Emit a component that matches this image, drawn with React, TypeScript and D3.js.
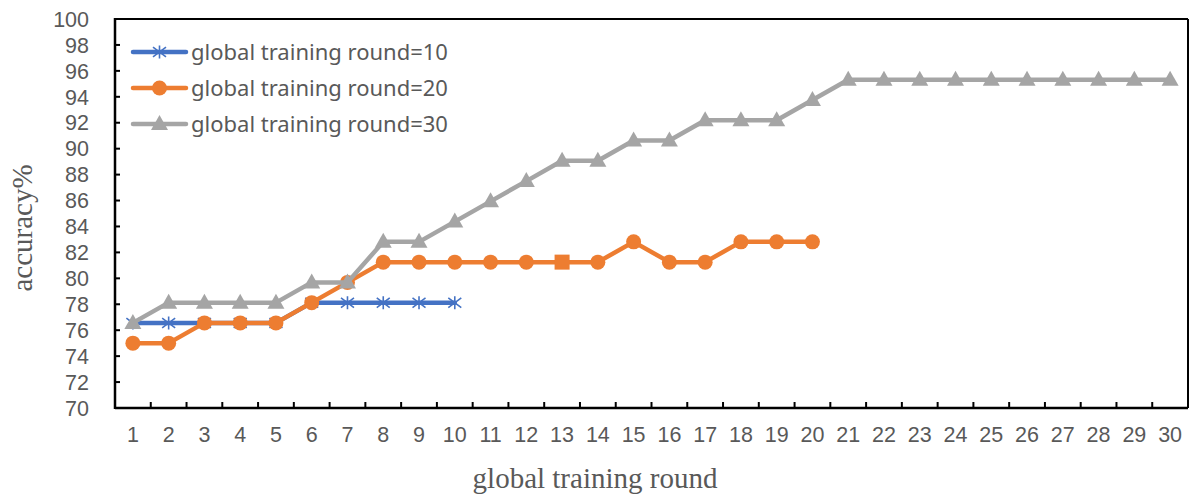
import React from "react";
import * as d3 from "d3";

const rounds: number[] = d3.range(1, 31);
const yTicks: number[] = d3.range(70, 101, 2);

const seriesNames = [
  "global training round=10",
  "global training round=20",
  "global training round=30",
];

const acc10: number[] = [
  76.5625, 76.5625, 76.5625, 76.5625, 76.5625,
  78.125, 78.125, 78.125, 78.125, 78.125,
];

const acc20: number[] = [
  75.0, 75.0, 76.5625, 76.5625, 76.5625, 78.125, 79.6875, 81.25, 81.25, 81.25,
  81.25, 81.25, 81.25, 81.25, 82.8125, 81.25, 81.25, 82.8125, 82.8125, 82.8125,
];

const acc30: number[] = [
  76.5625, 78.125, 78.125, 78.125, 78.125, 79.6875, 79.6875, 82.8125, 82.8125, 84.375,
  85.9375, 87.5, 89.0625, 89.0625, 90.625, 90.625, 92.1875, 92.1875, 92.1875, 93.75,
  95.3125, 95.3125, 95.3125, 95.3125, 95.3125, 95.3125, 95.3125, 95.3125, 95.3125, 95.3125,
];

const colors = ["#4472C4", "#ED7D31", "#A5A5A5"];
const markerKinds = ["star", "circle", "triangle"];
// point 13 of the second series uses a square marker
const squarePoints20 = [13];

const W = 1192;
const H = 499;
const left = 115;
const right = 1188;
const top = 19;
const bottom = 408;

const tickFont = "'Liberation Sans', Arial, sans-serif";
const legendFont = "'Noto Sans', sans-serif";
const titleFont = "'Liberation Serif', 'Times New Roman', serif";
const textGray = "#595959";

function Marker({ kind, x, y, color }: { kind: string; x: number; y: number; color: string }) {
  if (kind === "circle") return <circle cx={x} cy={y} r={7.5} fill={color} />;
  if (kind === "square") return <rect x={x - 7.5} y={y - 7.5} width={15} height={15} fill={color} />;
  if (kind === "triangle") {
    const p = d3.path();
    p.moveTo(x, y - 9);
    p.lineTo(x + 8.5, y + 6);
    p.lineTo(x - 8.5, y + 6);
    p.closePath();
    return <path d={p.toString()} fill={color} />;
  }
  // asterisk: vertical stroke plus an x
  const s = 6.5;
  const p = d3.path();
  p.moveTo(x, y - s);
  p.lineTo(x, y + s);
  p.moveTo(x - s, y - s * 0.75);
  p.lineTo(x + s, y + s * 0.75);
  p.moveTo(x - s, y + s * 0.75);
  p.lineTo(x + s, y - s * 0.75);
  return <path d={p.toString()} stroke={color} strokeWidth={1.6} fill="none" />;
}

export default function App() {
  const x = d3.scaleBand<number>().domain(rounds).range([left, right]).padding(0);
  const bw = x.bandwidth();
  const cx = (r: number) => (x(r) as number) + bw / 2;
  const y = d3.scaleLinear().domain([70, 100]).range([bottom, top]);

  const line = d3
    .line<number>()
    .x((_, i) => cx(i + 1))
    .y((d) => y(d));

  const all = [acc10, acc20, acc30];

  return (
    <svg width={W} height={H} style={{ position: "absolute", left: 0, top: 0, background: "#fff" }}>
      {/* frame: top and right edges */}
      <line x1={left} x2={right} y1={top} y2={top} stroke="#000" strokeWidth={2} />
      <line x1={right} x2={right} y1={top} y2={bottom} stroke="#000" strokeWidth={2} />

      {/* y axis */}
      <line x1={left} x2={left} y1={top - 1} y2={bottom + 1} stroke="#000" strokeWidth={2.5} />
      {yTicks.map((t) => (
        <g key={t}>
          <line x1={left} x2={left + 5} y1={y(t)} y2={y(t)} stroke="#000" strokeWidth={2} />
          <text
            x={89}
            y={y(t)}
            dy="0.36em"
            textAnchor="end"
            fontFamily={tickFont}
            fontSize={21.5}
            fill={textGray}
          >
            {t}
          </text>
        </g>
      ))}

      {/* x axis */}
      <line x1={left} x2={right} y1={bottom} y2={bottom} stroke="#000" strokeWidth={2.5} />
      {rounds.slice(1).map((r) => (
        <line key={r} x1={x(r)} x2={x(r)} y1={bottom} y2={bottom - 6} stroke="#000" strokeWidth={2} />
      ))}
      {rounds.map((r) => (
        <text
          key={r}
          x={cx(r)}
          y={442}
          textAnchor="middle"
          fontFamily={tickFont}
          fontSize={21.5}
          fill={textGray}
        >
          {r}
        </text>
      ))}

      {/* axis titles */}
      <text
        x={595}
        y={488}
        textAnchor="middle"
        fontFamily={titleFont}
        fontSize={29}
        fill={textGray}
      >
        global training round
      </text>
      <text
        transform={`translate(32, 228) rotate(-90)`}
        textAnchor="middle"
        fontFamily={titleFont}
        fontSize={29}
        fill={textGray}
      >
        accuracy%
      </text>

      {/* series */}
      {all.map((data, si) => (
        <g key={si}>
          <path
            d={line(data) as string}
            fill="none"
            stroke={colors[si]}
            strokeWidth={4.5}
            strokeLinejoin="round"
            strokeLinecap="round"
          />
          {data.map((v, i) => (
            <Marker
              key={i}
              kind={si === 1 && squarePoints20.includes(i + 1) ? "square" : markerKinds[si]}
              x={cx(i + 1)}
              y={y(v)}
              color={colors[si]}
            />
          ))}
        </g>
      ))}

      {/* legend */}
      {seriesNames.map((name, i) => {
        const ly = 52 + i * 36;
        return (
          <g key={name}>
            <line x1={133} x2={186} y1={ly} y2={ly} stroke={colors[i]} strokeWidth={4.5} strokeLinecap="round" />
            <Marker kind={markerKinds[i]} x={159.5} y={ly} color={colors[i]} />
            <text
              x={191}
              y={ly}
              dy="0.36em"
              fontFamily={legendFont}
              fontSize={22}
              fill={textGray}
            >
              {name}
            </text>
          </g>
        );
      })}
    </svg>
  );
}
